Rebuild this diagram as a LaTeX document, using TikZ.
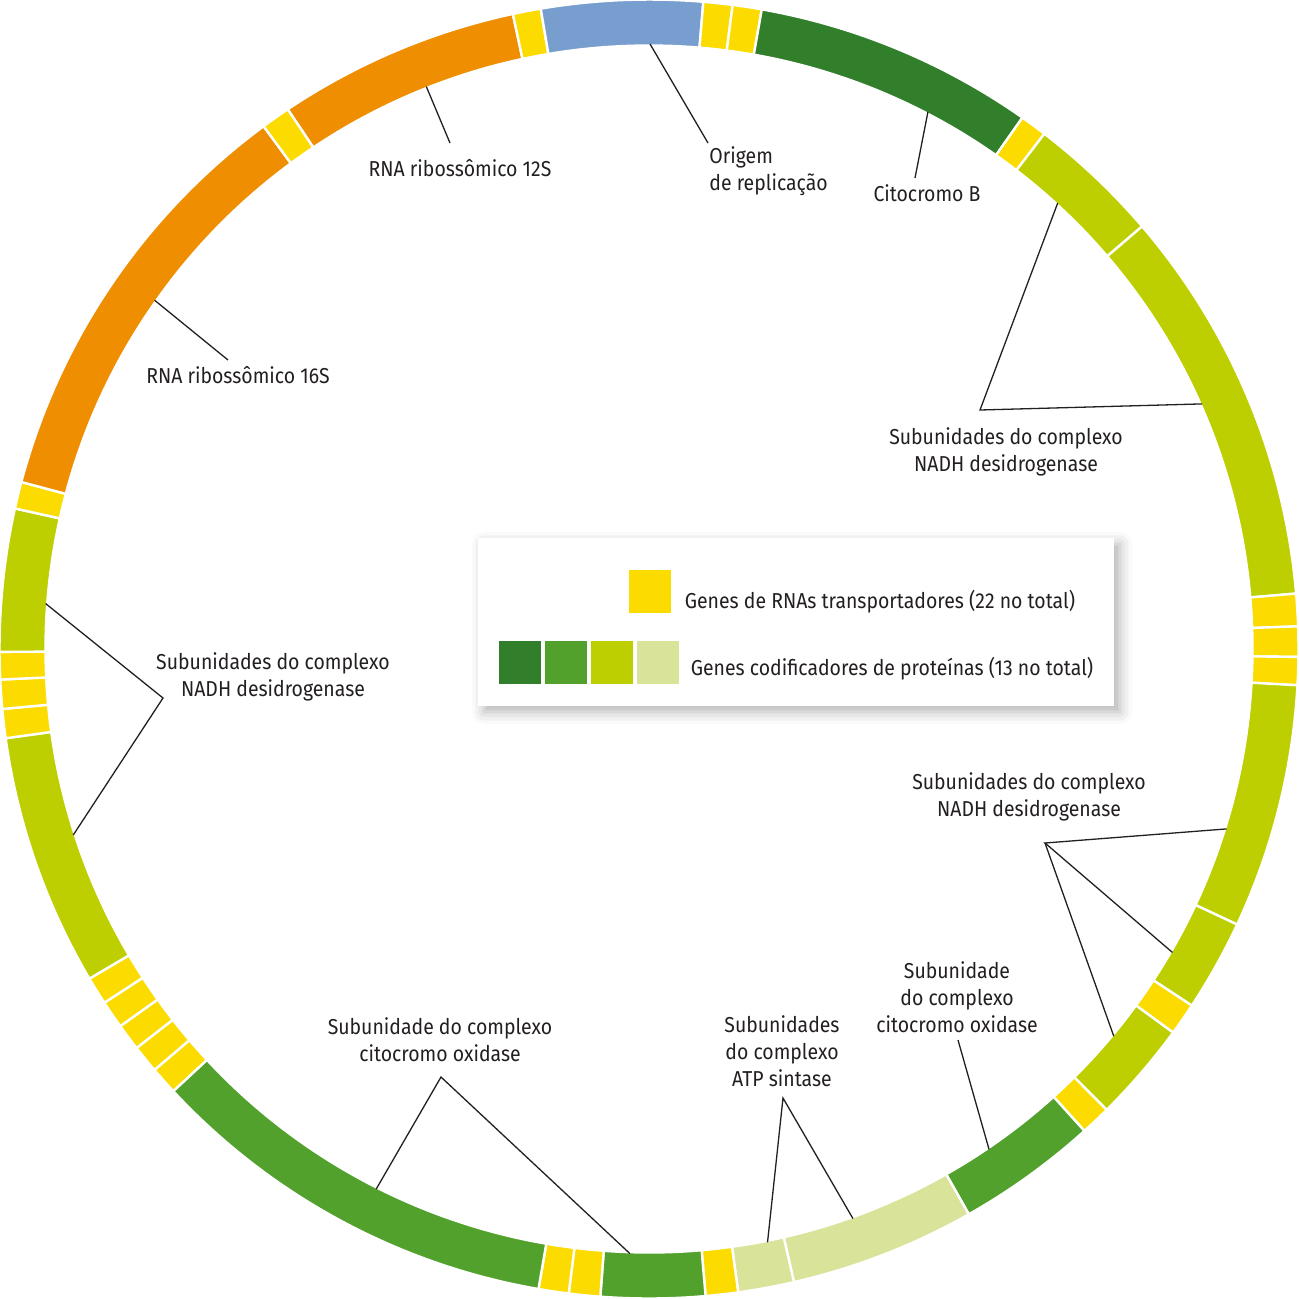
\documentclass[tikz,border=0pt]{standalone}
\usepackage{fontspec}
\setmainfont{Fira Sans}[FakeStretch=0.9]
\usetikzlibrary{positioning,shadows.blur}
\definecolor{ink}{HTML}{231F20}
\definecolor{trna}{HTML}{FCDC00}
\definecolor{rrna}{HTML}{EF8E00}
\definecolor{ori}{HTML}{789ECF}
\definecolor{cytb}{HTML}{317F2B}
\definecolor{cox}{HTML}{51A12C}
\definecolor{nadh}{HTML}{BDCF00}
\definecolor{atp}{HTML}{D9E39A}
\begin{document}
\begin{tikzpicture}[x=0.5pt, y=0.5pt, every node/.style={align=center, text=ink, inner sep=0pt, font=\fontsize{10.8}{13.5}\selectfont}, pointer/.style={draw=ink, line width=0.65pt}, sq/.style={minimum width=21pt, minimum height=21.5pt}]
\useasboundingbox (-649,-649) rectangle (650,649);

% ring
\foreach \a/\b/\c in {123.8/102.1/rrna, 102.1/99.6/trna, 99.6/85.2/ori, 85.2/82.6/trna, 82.6/80.0/trna, 80.0/54.9/cytb, 54.9/52.5/trna, 52.5/40.6/nadh, 40.6/4.9/nadh, 4.9/2.0/trna, 2.0/-0.7/trna, -0.7/-3.2/trna, -3.2/-25.1/nadh, -25.1/-33.3/nadh, -33.3/-36.2/trna, -36.2/-45.2/nadh, -45.2/-47.9/trna, -47.9/-60.5/cox, -60.5/-77.1/atp, -77.1/-82.1/atp, -82.1/-85.0/trna, -85.0/-94.3/cox, -94.3/-97.1/trna, -97.1/-99.8/trna, -99.8/-137.1/cox, -137.1/-139.6/trna, -139.6/-142.1/trna, -142.1/-144.5/trna, -144.5/-147.0/trna, -147.0/-149.5/trna, -149.5/-172.1/nadh, -172.1/-174.7/trna, -174.7/-177.3/trna, -177.3/-179.75/trna, 180.25/167.5/nadh, 167.5/165.1/trna, 165.1/126.4/rrna, 126.4/123.8/trna}
  \filldraw[fill=\c, draw=white, line width=1.2pt] (\a:603.5) arc[start angle=\a, end angle=\b, radius=603.5] -- (\b:649.5) arc[start angle=\b, end angle=\a, radius=649.5] -- cycle;

% labels
\node (l12S) at (-189,481) {RNA ribossômico 12S};
\node[align=left, anchor=west] (lori) at (60,477.5) {Origem\\de replicação};
\node (lcytb) at (278,456) {Citocromo B};
\node (lnd1) at (357,197.5) {Subunidades do complexo\\NADH desidrogenase};
\node (l16S) at (-411,274) {RNA ribossômico 16S};
\node (lnd2) at (-376,-27.5) {Subunidades do complexo\\NADH desidrogenase};
\node (lnd3) at (380,-147.5) {Subunidades do complexo\\NADH desidrogenase};
\node (lcox1) at (308,-348) {Subunidade\\do complexo\\citocromo oxidase};
\node (latp) at (133,-402) {Subunidades\\do complexo\\ATP sintase};
\node (lcox2) at (-209,-390.5) {Subunidade do complexo\\citocromo oxidase};

% pointer ends
\coordinate (t12S) at (-199,506);
\coordinate (tori) at (59,506);
\coordinate (tcytb) at (266,471);
\coordinate (tnd1) at (331,239);
\coordinate (t16S) at (-421,289);
\coordinate (tnd2) at (-486,-49);
\coordinate (tnd3) at (396,-194);
\coordinate (tcox1) at (309,-391);
\coordinate (tatp) at (134,-449);
\coordinate (tcox2) at (-208,-428);

\draw[pointer] (111.6:605) -- (t12S);
\draw[pointer] (89.9:605) -- (tori);
\draw[pointer] (62.55:605) -- (tcytb);
\draw[pointer] (47.5:605) -- (tnd1) -- (23.9:605);
\draw[pointer] (144.8:605) -- (t16S);
\draw[pointer] (175.7:605) -- (tnd2) -- (-162.1:605);
\draw[pointer] (-17.3:605) -- (tnd3) -- (-30.1:605);
\draw[pointer] (tnd3) -- (-39.8:605);
\draw[pointer] (-55.8:605) -- (tcox1);
\draw[pointer] (-78.7:605) -- (tatp) -- (-70.3:605);
\draw[pointer] (-116.8:605) -- (tcox2) -- (-91.8:605);

% legend
\node[fill=white, minimum width=318pt, minimum height=84pt, blur shadow={shadow xshift=3pt, shadow yshift=-3pt, shadow blur radius=6pt, shadow opacity=30}] (leg) at (147,27) {};
\node[sq, fill=trna] (ky) at (1,57.5) {};
\node[anchor=west, right=6.5pt of ky, yshift=-5pt] (kyt) {Genes de RNAs transportadores (22 no total)};
\node[sq, fill=cytb] (kg1) at (-129,-13.5) {};
\node[sq, fill=cox, right=1.6pt of kg1] (kg2) {};
\node[sq, fill=nadh, right=1.6pt of kg2] (kg3) {};
\node[sq, fill=atp, right=1.6pt of kg3] (kg4) {};
\node[anchor=west, right=5.5pt of kg4, yshift=-3pt] (kgt) {Genes codificadores de proteínas (13 no total)};
\end{tikzpicture}
\end{document}
